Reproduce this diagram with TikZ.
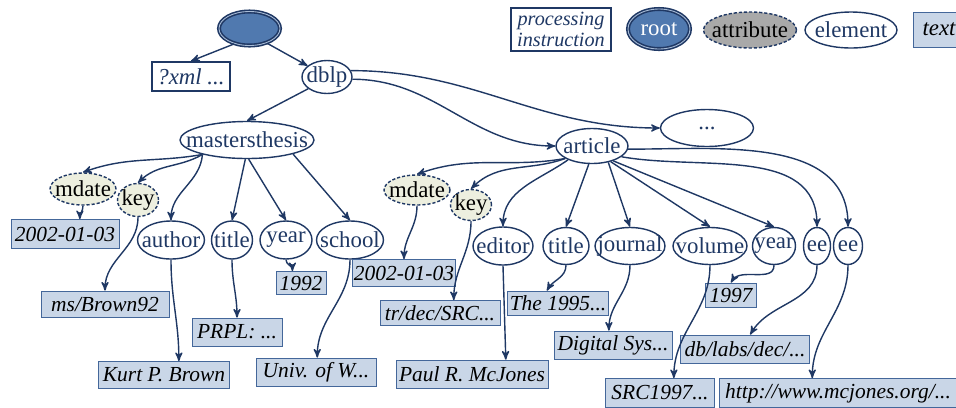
\documentclass[tikz,border=0pt]{standalone}
\usepackage{fontspec}
\setmainfont{Liberation Serif}
\usepackage{xcolor}
\usepackage{tikz}
\usetikzlibrary{
    arrows,
    shapes.geometric
}
\definecolor{navy}{HTML}{1F3864}
\definecolor{rootblue}{HTML}{5079AF}
\definecolor{attrfill}{HTML}{EDEFDF}
\definecolor{attrgray}{HTML}{A9A9A9}
\definecolor{boxfill}{HTML}{C9D6E7}
\definecolor{boxline}{HTML}{44679A}

\begin{document}
\begin{tikzpicture}[->,>=stealth',thick,x=0.2mm,y=-0.2mm,navy]
    \tikzstyle{tight}=[execute at begin node={\hbox to 0pt\bgroup\hss}, execute at end node={\hss\egroup}]
    \tikzstyle{element}=[shape=ellipse, draw=navy, fill=white, inner sep=0pt, tight, text=navy, font=\fontsize{13}{14}\selectfont]
    \tikzstyle{attribute}=[element, dash pattern=on 1.8pt off 1.1pt, fill=attrfill, text=black]
    \tikzstyle{rootnode}=[element, fill=rootblue, line width=0.9pt, double=rootblue!50!white, double distance=0.5pt]
    \tikzstyle{textbox}=[shape=rectangle, draw=boxline, fill=boxfill, text=black, thin, inner xsep=1pt, inner ysep=0pt, font=\fontsize{12.2}{13}\itshape]
    \tikzstyle{procbox}=[shape=rectangle, draw=navy, line width=1.1pt, fill=white, text=navy, inner sep=1pt, font=\fontsize{11.5}{13}\itshape]
    \useasboundingbox (0,0) rectangle (956,407);

    % legend
    \node[procbox, align=center, minimum width=20mm, minimum height=8.6mm] (legpi) at (561,29.5){processing\\[-1pt]instruction};
    \node[rootnode, text=white, minimum width=12.4mm, minimum height=8mm] (legroot) at (659,29){root};
    \node[attribute, fill=attrgray, minimum width=18.6mm, minimum height=7.2mm] (legattr) at (750,30){attribute};
    \node[element, minimum width=18.4mm, minimum height=7.2mm] (legelem) at (851,30){element};
    \node[textbox, font=\fontsize{13}{14}\itshape, minimum width=10.4mm, minimum height=7mm] (legtext) at (939,29.5){text};

    % document, processing instruction, dblp
    \node[rootnode, minimum width=12.2mm, minimum height=6.8mm] (root) at (249.5,28.5){};
    \node[procbox, font=\fontsize{13}{14}\itshape, minimum width=15.6mm, minimum height=5.8mm] (xml) at (191,76.5){?xml ...};
    \node[element, minimum width=10mm, minimum height=6.6mm] (dblp) at (327,77){dblp};
    \node[element, minimum width=18.6mm, minimum height=7.4mm] (dots) at (707,128){...};

    % mastersthesis
    \node[element, minimum width=26.8mm, minimum height=7.4mm] (ms) at (247,140){mastersthesis};
    \node[attribute, minimum width=13.2mm, minimum height=6.4mm] (mdate1) at (83,189){mdate};
    \node[attribute, minimum width=8.2mm, minimum height=6.6mm] (key1) at (138,200){key};
    \node[element, minimum width=13.4mm, minimum height=7.6mm] (author) at (171,240){author};
    \node[element, minimum width=8.2mm, minimum height=7.6mm] (title1) at (232,240){title};
    \node[element, minimum width=10.4mm, minimum height=7.6mm] (year1) at (286,240){year};
    \node[element, minimum width=13.4mm, minimum height=7.6mm] (school) at (350,240){school};
    \node[textbox, minimum width=21.6mm, minimum height=5.8mm] (date1) at (65,234){2002-01-03};
    \node[textbox, minimum width=25.6mm, minimum height=5.2mm] (msb) at (105,304){ms/Brown92};
    \node[textbox, minimum width=26.2mm, minimum height=5.4mm] (kurt) at (164,375){Kurt P. Brown};
    \node[textbox, minimum width=18mm, minimum height=5.6mm] (prpl) at (237,332){PRPL: ...};
    \node[textbox, minimum width=10mm, minimum height=4.6mm] (y1992) at (301,283){1992};
    \node[textbox, minimum width=24mm, minimum height=5.6mm] (univ) at (316,372){Univ. of W...};

    % article
    \node[element, minimum width=14.4mm, minimum height=7mm] (article) at (592,146){article};
    \node[attribute, minimum width=13.2mm, minimum height=6mm] (mdate2) at (417,190){mdate};
    \node[attribute, minimum width=8.2mm, minimum height=6.2mm] (key2) at (471,205){key};
    \node[element, minimum width=12mm, minimum height=7.6mm] (editor) at (503,246){editor};
    \node[element, minimum width=9.2mm, minimum height=7.4mm] (title2) at (566,246){title};
    \node[element, minimum width=14mm, minimum height=7.4mm] (journal) at (630,246){journal};
    \node[element, minimum width=14.8mm, minimum height=7.4mm] (volume) at (710,246){volume};
    \node[element, minimum width=8.6mm, minimum height=7.4mm] (year2) at (774,246){year};
    \node[element, minimum width=5.4mm, minimum height=7.4mm] (ee1) at (817,246){ee};
    \node[element, minimum width=5.8mm, minimum height=7.4mm] (ee2) at (848,246){ee};
    \node[textbox, minimum width=19.2mm, minimum height=5.4mm] (date2) at (404,273){2002-01-03};
    \node[textbox, minimum width=24mm, minimum height=5mm] (trdec) at (440,313){tr/dec/SRC...};
    \node[textbox, minimum width=30.4mm, minimum height=5.6mm] (paul) at (472,374){Paul R. McJones};
    \node[textbox, minimum width=20.2mm, minimum height=4.8mm] (the95) at (558,303){The 1995...};
    \node[textbox, minimum width=10.2mm, minimum height=4.8mm] (y1997) at (731,295){1997};
    \node[textbox, minimum width=23.6mm, minimum height=5.6mm] (digital) at (613,345){Digital Sys...};
    \node[textbox, minimum width=25.8mm, minimum height=5.6mm] (dblabs) at (745,349){db/labs/dec/...};
    \node[textbox, minimum width=21.8mm, minimum height=5.8mm] (src) at (660,393){SRC1997...};
    \node[textbox, minimum width=47.6mm, minimum height=5.8mm] (http) at (838,393){http://www.mcjones.org/...};

    \path (root.-135) edge (xml.north);
    \path (root.-40) edge (dblp.150);
    \path (dblp.212) edge (ms.north);
    \path (dblp.15) edge[out=0, in=180] (dots.west);
    \path (dblp.-5) edge[out=0, in=180] (article.west);

    \path (ms.198) edge[out=190, in=20] (mdate1.north);
    \path (ms.198) edge[out=210, in=45] (key1.north);
    \path (ms.198) edge[out=-95, in=90] (author.north);
    \path (ms.-95) edge (title1.north);
    \path (ms.-85) edge (year1.north);
    \path (ms.-17) edge (school.north);
    \path (mdate1.south) edge[out=-90, in=90] (date1.45);
    \path (key1.south) edge[out=-90, in=90] (msb.north);
    \path (author.south) edge[out=-90, in=90] (kurt.43);
    \path (title1.south) edge[out=-90, in=90] (prpl.north);
    \path (year1.south) edge[out=-90, in=90] (y1992.126);
    \path (school.south) edge[out=-90, in=90] (univ.85);

    \path (article.205) edge[out=190, in=20] (mdate2.north);
    \path (article.205) edge[out=200, in=45] (key2.north);
    \path (article.210) edge[out=215, in=90] (editor.north);
    \path (article.-100) edge (title2.north);
    \path (article.-45) edge (journal.north);
    \path (article.-40) edge (volume.north);
    \path (article.-35) edge (year2.north);
    \path (article.-20) edge[out=-10, in=90] (ee1.north);
    \path (article.-5) edge[out=0, in=90] (ee2.north);
    \path (mdate2.south) edge[out=-90, in=90] (date2.north);
    \path (key2.south) edge[out=-90, in=90] (trdec.43);
    \path (editor.south) edge (paul.23);
    \path (title2.south) edge[out=-90, in=60] (the95.132);
    \path (journal.south) edge[out=-90, in=90] (digital.106);
    \path (volume.south) edge[out=-90, in=90] (src.47);
    \path (year2.south) edge[out=-90, in=60] (y1997.north);
    \path (ee1.south) edge[out=-90, in=60] (dblabs.70);
    \path (ee2.south) edge[out=-90, in=90] (http.150);
\end{tikzpicture}
\end{document}
